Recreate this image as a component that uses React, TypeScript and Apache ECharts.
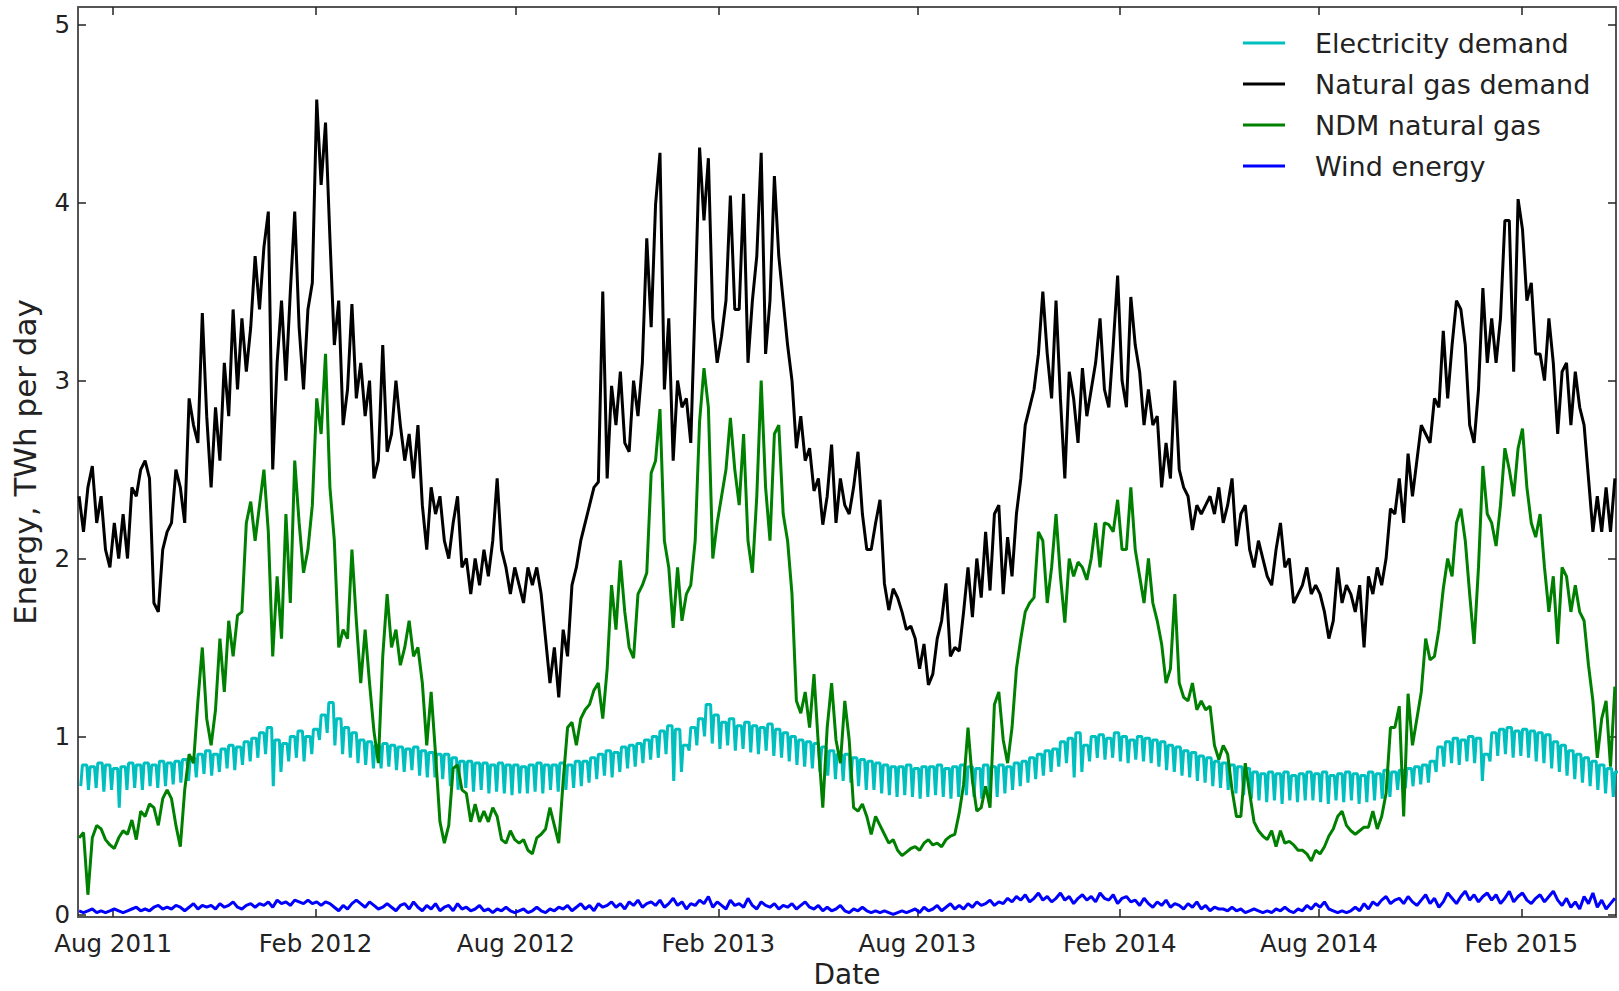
import React, { useEffect, useRef } from "react";
import * as echarts from "echarts";

const DAY = 86400000;
const START = Date.UTC(2011, 6, 1);
const X_MIN = Date.UTC(2011, 5, 30);
const X_MAX = Date.UTC(2015, 3, 28);
const STEP_DAYS = 4;

const tickDates = [
  Date.UTC(2011, 7, 1), Date.UTC(2012, 1, 1), Date.UTC(2012, 7, 1), Date.UTC(2013, 1, 1),
  Date.UTC(2013, 7, 1), Date.UTC(2014, 1, 1), Date.UTC(2014, 7, 1), Date.UTC(2015, 1, 1),
];
const tickLabels = ["Aug 2011", "Feb 2012", "Aug 2012", "Feb 2013", "Aug 2013", "Feb 2014", "Aug 2014", "Feb 2015"];
const yTicks = [0, 1, 2, 3, 4, 5];
const seriesNames = ["Electricity demand", "Natural gas demand", "NDM natural gas", "Wind energy"];

// one value every 4 days from 1 Jul 2011
const gasDemand = [
  2.35,2.15,2.40,2.52,2.20,2.35,2.05,1.95,2.20,2.00,
  2.25,2.00,2.40,2.35,2.50,2.55,2.45,1.75,1.70,2.05,
  2.15,2.20,2.50,2.40,2.20,2.90,2.75,2.65,3.38,2.80,
  2.40,2.85,2.55,3.10,2.80,3.40,2.95,3.35,3.05,3.30,
  3.70,3.40,3.75,3.95,2.50,3.10,3.45,3.00,3.50,3.95,
  3.30,2.95,3.40,3.55,4.58,4.10,4.45,3.80,3.20,3.45,
  2.75,2.95,3.43,2.90,3.10,2.80,3.00,2.45,2.55,3.20,
  2.60,2.70,3.00,2.75,2.55,2.70,2.45,2.75,2.30,2.05,
  2.40,2.25,2.35,2.10,2.00,2.20,2.35,1.95,2.00,1.80,
  2.00,1.85,2.05,1.90,2.10,2.45,2.05,1.95,1.80,1.95,
  1.85,1.75,1.95,1.85,1.95,1.80,1.55,1.30,1.50,1.22,
  1.60,1.45,1.85,1.95,2.10,2.20,2.30,2.40,2.43,3.50,
  2.45,2.97,2.75,3.05,2.65,2.60,3.00,2.80,3.10,3.80,
  3.30,3.99,4.28,2.95,3.35,2.55,3.00,2.85,2.90,2.65,
  3.45,4.31,3.90,4.25,3.35,3.10,3.25,3.45,4.04,3.40,
  3.40,4.05,3.10,3.45,3.70,4.28,3.15,3.45,4.15,3.70,
  3.45,3.20,3.00,2.62,2.80,2.55,2.62,2.38,2.45,2.19,
  2.35,2.64,2.20,2.45,2.30,2.25,2.40,2.60,2.25,2.05,
  2.05,2.20,2.33,1.86,1.71,1.83,1.78,1.70,1.60,1.62,
  1.55,1.38,1.52,1.29,1.35,1.55,1.65,1.86,1.45,1.50,
  1.48,1.70,1.95,1.67,2.00,1.78,2.15,1.82,2.25,2.30,
  1.80,2.12,1.90,2.25,2.45,2.75,2.85,2.95,3.15,3.50,
  3.15,2.90,3.45,2.90,2.45,3.05,2.90,2.65,3.07,2.80,
  2.95,3.10,3.35,2.95,2.85,3.20,3.59,3.00,2.85,3.47,
  3.20,3.05,2.75,2.95,2.75,2.80,2.40,2.65,2.45,3.00,
  2.50,2.40,2.35,2.16,2.30,2.25,2.30,2.35,2.25,2.40,
  2.20,2.30,2.45,2.07,2.25,2.30,2.05,1.95,2.10,2.00,
  1.90,1.85,2.05,2.20,1.95,2.00,1.75,1.80,1.85,1.95,
  1.80,1.85,1.80,1.70,1.55,1.65,1.95,1.75,1.85,1.80,
  1.70,1.85,1.50,1.90,1.80,1.95,1.85,2.00,2.28,2.25,
  2.45,2.20,2.59,2.35,2.55,2.75,2.70,2.65,2.90,2.85,
  3.28,2.90,3.20,3.45,3.40,3.20,2.75,2.65,2.95,3.52,
  3.10,3.35,3.10,3.35,3.90,3.90,3.05,4.02,3.85,3.45,
  3.55,3.15,3.15,3.00,3.35,3.10,2.70,3.05,3.10,2.75,
  3.05,2.85,2.75,2.45,2.15,2.35,2.15,2.40,2.15,2.45,
];

const ndmGas = [
  0.43,0.46,0.11,0.43,0.50,0.48,0.42,0.39,0.37,0.43,
  0.47,0.45,0.53,0.42,0.58,0.55,0.62,0.60,0.50,0.65,
  0.70,0.65,0.50,0.38,0.70,0.90,0.85,1.20,1.50,1.10,
  0.95,1.15,1.55,1.25,1.65,1.45,1.68,1.70,2.20,2.32,
  2.10,2.30,2.50,2.15,1.45,1.90,1.55,2.25,1.75,2.55,
  2.20,1.92,2.05,2.30,2.90,2.70,3.15,2.40,2.10,1.50,
  1.60,1.55,2.05,1.65,1.30,1.60,1.30,1.03,0.85,1.45,
  1.80,1.50,1.60,1.40,1.50,1.65,1.45,1.50,1.30,0.95,
  1.25,0.90,0.52,0.40,0.50,0.82,0.84,0.70,0.68,0.52,
  0.62,0.52,0.58,0.52,0.60,0.55,0.42,0.40,0.47,0.42,
  0.40,0.42,0.36,0.34,0.43,0.45,0.48,0.60,0.50,0.40,
  0.75,1.05,1.08,0.95,1.10,1.15,1.18,1.26,1.30,1.10,
  1.38,1.85,1.60,1.99,1.70,1.50,1.44,1.80,1.85,1.92,
  2.48,2.55,2.84,2.10,1.95,1.61,1.95,1.65,1.80,1.85,
  2.10,2.77,3.07,2.85,2.00,2.20,2.35,2.50,2.79,2.50,
  2.30,2.70,2.10,1.92,2.35,3.00,2.40,2.10,2.70,2.75,
  2.25,2.10,1.80,1.20,1.13,1.25,1.05,1.35,0.95,0.60,
  1.05,1.30,0.98,0.85,1.20,0.98,0.60,0.58,0.62,0.55,
  0.45,0.55,0.50,0.45,0.40,0.42,0.36,0.33,0.35,0.37,
  0.38,0.36,0.40,0.42,0.39,0.40,0.38,0.42,0.44,0.45,
  0.57,0.73,1.05,0.75,0.58,0.60,0.72,0.60,1.18,1.25,
  0.98,0.85,1.05,1.38,1.55,1.70,1.75,1.78,2.15,2.10,
  1.75,1.95,2.25,1.90,1.64,2.00,1.90,1.98,1.95,1.88,
  2.00,2.20,1.95,2.20,2.19,2.15,2.33,2.05,2.05,2.40,
  2.05,1.90,1.75,2.00,1.75,1.65,1.52,1.30,1.38,1.80,
  1.30,1.22,1.20,1.30,1.15,1.20,1.15,1.17,0.95,0.87,
  0.95,0.90,0.70,0.55,0.55,0.85,0.68,0.52,0.47,0.44,
  0.42,0.47,0.38,0.47,0.40,0.41,0.39,0.36,0.36,0.34,
  0.30,0.36,0.34,0.38,0.44,0.48,0.55,0.58,0.50,0.47,
  0.45,0.47,0.49,0.49,0.58,0.48,0.55,0.68,1.05,1.05,
  1.17,0.55,1.24,0.95,1.10,1.25,1.55,1.43,1.45,1.60,
  1.83,2.00,1.90,2.20,2.28,2.10,1.80,1.52,1.95,2.52,
  2.25,2.20,2.07,2.30,2.62,2.50,2.35,2.62,2.73,2.40,
  2.20,2.12,2.25,1.95,1.70,1.90,1.52,1.95,1.90,1.70,
  1.85,1.70,1.65,1.40,1.20,0.88,1.10,1.20,0.83,1.28,
];

const windEnergy = [
  0.02,0.01,0.02,0.03,0.01,0.02,0.01,0.02,0.03,0.02,
  0.01,0.02,0.03,0.04,0.02,0.03,0.02,0.04,0.05,0.03,
  0.04,0.03,0.05,0.04,0.02,0.04,0.06,0.03,0.05,0.04,
  0.05,0.03,0.06,0.04,0.05,0.07,0.04,0.03,0.05,0.06,
  0.04,0.06,0.05,0.07,0.04,0.08,0.06,0.07,0.05,0.08,
  0.07,0.06,0.08,0.06,0.07,0.05,0.07,0.06,0.04,0.02,
  0.05,0.03,0.06,0.08,0.06,0.04,0.07,0.05,0.03,0.04,
  0.06,0.04,0.02,0.05,0.06,0.03,0.07,0.04,0.02,0.05,
  0.03,0.06,0.02,0.04,0.05,0.02,0.06,0.03,0.04,0.02,
  0.03,0.05,0.02,0.03,0.01,0.03,0.02,0.04,0.02,0.01,
  0.02,0.03,0.01,0.02,0.04,0.02,0.01,0.03,0.02,0.04,
  0.03,0.05,0.02,0.04,0.06,0.03,0.05,0.02,0.06,0.04,
  0.05,0.07,0.04,0.06,0.03,0.07,0.05,0.08,0.04,0.06,
  0.07,0.05,0.08,0.04,0.06,0.09,0.05,0.07,0.03,0.06,
  0.05,0.08,0.06,0.10,0.04,0.07,0.05,0.03,0.08,0.05,
  0.06,0.04,0.09,0.05,0.03,0.07,0.05,0.04,0.06,0.03,
  0.05,0.04,0.06,0.03,0.05,0.07,0.04,0.03,0.05,0.02,
  0.04,0.02,0.03,0.05,0.02,0.01,0.03,0.02,0.04,0.02,
  0.01,0.02,0.01,0.02,0.01,0.00,0.01,0.02,0.01,0.02,
  0.03,0.01,0.04,0.02,0.03,0.05,0.02,0.04,0.06,0.03,
  0.05,0.03,0.06,0.04,0.07,0.05,0.06,0.08,0.05,0.07,
  0.06,0.09,0.07,0.10,0.08,0.11,0.07,0.09,0.12,0.08,
  0.10,0.07,0.09,0.12,0.08,0.10,0.06,0.09,0.11,0.08,
  0.10,0.07,0.12,0.09,0.08,0.11,0.06,0.09,0.10,0.07,
  0.08,0.05,0.09,0.06,0.04,0.07,0.05,0.08,0.04,0.06,
  0.05,0.03,0.06,0.04,0.07,0.03,0.05,0.02,0.04,0.03,
  0.03,0.02,0.04,0.02,0.03,0.01,0.02,0.03,0.02,0.01,
  0.02,0.01,0.03,0.02,0.04,0.02,0.01,0.03,0.02,0.05,
  0.03,0.06,0.04,0.07,0.03,0.02,0.01,0.02,0.01,0.02,
  0.04,0.02,0.06,0.03,0.07,0.05,0.08,0.10,0.06,0.08,
  0.09,0.06,0.10,0.07,0.05,0.08,0.11,0.06,0.09,0.04,
  0.07,0.12,0.09,0.06,0.10,0.13,0.08,0.11,0.07,0.10,
  0.12,0.08,0.11,0.06,0.09,0.13,0.07,0.10,0.12,0.08,
  0.06,0.09,0.11,0.07,0.10,0.13,0.08,0.05,0.09,0.04,
  0.07,0.03,0.10,0.06,0.12,0.04,0.08,0.03,0.06,0.09,
];

// electricity: one weekday level and one weekend level per week from 1 Jul 2011
const elecWeekdayHigh = [
  0.84,0.83,0.85,0.84,0.82,0.83,0.85,0.84,0.85,0.84,
  0.86,0.85,0.86,0.87,0.88,0.90,0.92,0.90,0.93,0.95,
  0.94,0.97,0.99,1.02,1.05,0.98,0.96,1.00,1.03,1.00,
  1.04,1.12,1.19,1.10,1.05,1.02,0.98,0.97,0.95,0.96,
  0.95,0.94,0.93,0.94,0.92,0.91,0.90,0.90,0.88,0.86,
  0.86,0.85,0.85,0.84,0.85,0.84,0.84,0.83,0.84,0.85,
  0.84,0.84,0.85,0.84,0.86,0.86,0.88,0.90,0.92,0.91,
  0.94,0.95,0.96,0.98,1.00,1.03,1.06,1.04,0.95,1.05,
  1.10,1.18,1.12,1.08,1.10,1.06,1.08,1.06,1.05,1.07,
  1.04,1.02,1.00,0.98,0.97,0.96,0.94,0.92,0.90,0.90,
  0.88,0.87,0.86,0.85,0.84,0.83,0.83,0.84,0.82,0.83,
  0.83,0.84,0.82,0.83,0.84,0.83,0.82,0.84,0.83,0.84,
  0.83,0.85,0.86,0.88,0.90,0.92,0.93,0.97,0.99,1.02,
  0.95,1.00,1.01,0.99,1.02,1.00,0.98,1.00,0.99,0.98,
  0.97,0.95,0.94,0.92,0.91,0.89,0.88,0.86,0.85,0.84,
  0.83,0.82,0.80,0.79,0.80,0.79,0.80,0.78,0.79,0.80,
  0.79,0.80,0.78,0.79,0.80,0.79,0.78,0.80,0.79,0.81,
  0.80,0.81,0.82,0.83,0.84,0.86,0.94,0.97,0.99,0.98,
  1.00,0.99,0.90,1.02,1.04,1.05,1.03,1.04,1.03,1.02,
  1.01,0.97,0.95,0.92,0.90,0.88,0.86,0.84,0.82,0.80,
];
const elecWeekendLow = [
  0.72,0.70,0.71,0.69,0.70,0.60,0.70,0.71,0.70,0.72,
  0.71,0.72,0.73,0.74,0.75,0.77,0.79,0.78,0.80,0.82,
  0.81,0.84,0.86,0.88,0.90,0.72,0.80,0.86,0.88,0.86,
  0.90,0.98,1.02,0.95,0.90,0.88,0.85,0.84,0.82,0.82,
  0.83,0.81,0.80,0.81,0.78,0.77,0.77,0.76,0.72,0.70,
  0.71,0.69,0.70,0.68,0.69,0.68,0.67,0.68,0.68,0.69,
  0.68,0.70,0.69,0.70,0.71,0.72,0.74,0.76,0.78,0.77,
  0.80,0.82,0.83,0.85,0.87,0.88,0.90,0.75,0.80,0.92,
  0.95,1.00,0.96,0.93,0.95,0.92,0.93,0.91,0.90,0.92,
  0.89,0.88,0.86,0.84,0.83,0.82,0.80,0.78,0.76,0.75,
  0.74,0.72,0.70,0.70,0.68,0.67,0.66,0.67,0.66,0.65,
  0.66,0.67,0.66,0.65,0.66,0.67,0.66,0.65,0.67,0.66,
  0.68,0.70,0.72,0.74,0.76,0.78,0.80,0.83,0.85,0.77,
  0.80,0.86,0.88,0.87,0.88,0.86,0.85,0.87,0.86,0.85,
  0.83,0.81,0.80,0.78,0.77,0.75,0.74,0.72,0.71,0.70,
  0.68,0.67,0.65,0.64,0.63,0.64,0.62,0.64,0.63,0.64,
  0.64,0.63,0.62,0.64,0.63,0.64,0.62,0.63,0.64,0.65,
  0.66,0.70,0.71,0.72,0.73,0.74,0.80,0.83,0.85,0.84,
  0.86,0.85,0.75,0.86,0.89,0.90,0.88,0.89,0.88,0.86,
  0.85,0.82,0.80,0.78,0.76,0.74,0.72,0.70,0.68,0.66,
];

const FONT = "DejaVu Sans";
const TEXT = "#222";

function stepSeries(values: number[]) {
  return values.map((v, i) => [START + i * STEP_DAYS * DAY, v]);
}

function electricitySeries() {
  const out: [number, number][] = [];
  for (let w = 0; w < elecWeekdayHigh.length; w++) {
    const base = START + w * 7 * DAY;
    out.push([base + 1.5 * DAY, elecWeekendLow[w]]);
    out.push([base + 3 * DAY, elecWeekdayHigh[w]]);
    out.push([base + 7 * DAY, elecWeekdayHigh[w]]);
  }
  return out;
}

function tickLabel(v: number) {
  const k = tickDates.findIndex((t) => Math.abs(t - v) < DAY);
  return k >= 0 ? tickLabels[k] : "";
}

export default function App() {
  const ref = useRef<HTMLDivElement>(null);
  useEffect(() => {
    document.body.style.margin = "0";
    if (!ref.current) return;
    const chart = echarts.init(ref.current, undefined, { renderer: "svg" });
    const frame = { show: true, onZero: false, lineStyle: { color: "#555", width: 2 } };
    const tick = { show: true, inside: true, length: 8, lineStyle: { color: "#222", width: 1.5 } };
    const lineSeries = (name: string, color: string, data: any[]) => ({
      name,
      type: "line",
      data,
      showSymbol: false,
      symbol: "none",
      xAxisIndex: 0,
      yAxisIndex: 0,
      lineStyle: { color, width: 3 },
      itemStyle: { color },
      emphasis: { disabled: true },
    });
    chart.setOption({
      animation: false,
      textStyle: { fontFamily: FONT },
      grid: { left: 78, right: 3, top: 7, bottom: 74, containLabel: false, outerBoundsMode: "none" },
      legend: {
        orient: "vertical",
        left: 1243,
        top: 28,
        padding: 0,
        itemWidth: 42,
        itemHeight: 3,
        itemGap: 11,
        icon: "rect",
        data: seriesNames,
        textStyle: { fontSize: 27, color: TEXT, fontFamily: FONT, lineHeight: 30, padding: [0, 0, 0, 25] },
      },
      xAxis: [
        {
          type: "value",
          min: X_MIN,
          max: X_MAX,
          position: "bottom",
          axisLine: frame,
          axisTick: { ...tick, customValues: tickDates },
          splitLine: { show: false },
          axisLabel: {
            customValues: tickDates,
            formatter: (v: number) => tickLabel(v),
            fontSize: 24.5,
            lineHeight: 20,
            color: TEXT,
            fontFamily: FONT,
            margin: 16,
          },
          name: "Date",
          nameLocation: "middle",
          nameGap: 43,
          nameTextStyle: { fontSize: 28, lineHeight: 28, color: TEXT, fontFamily: FONT },
        },
        {
          type: "value",
          min: X_MIN,
          max: X_MAX,
          position: "top",
          axisLine: frame,
          axisTick: { ...tick, customValues: tickDates },
          axisLabel: { show: false },
          splitLine: { show: false },
        },
      ],
      yAxis: [
        {
          type: "value",
          min: -0.015,
          max: 5.1,
          position: "left",
          axisLine: frame,
          axisTick: { ...tick, customValues: yTicks },
          splitLine: { show: false },
          axisLabel: {
            customValues: yTicks,
            fontSize: 24.5,
            lineHeight: 20,
            color: TEXT,
            fontFamily: FONT,
            margin: 8,
          },
          name: "Energy, TWh per day",
          nameLocation: "middle",
          nameGap: 38,
          nameTextStyle: { fontSize: 31, color: TEXT, fontFamily: FONT },
        },
        {
          type: "value",
          min: -0.015,
          max: 5.1,
          position: "right",
          axisLine: frame,
          axisTick: { ...tick, customValues: yTicks },
          axisLabel: { show: false },
          splitLine: { show: false },
        },
      ],
      series: [
        lineSeries(seriesNames[0], "#00bfbf", electricitySeries()),
        lineSeries(seriesNames[1], "#000000", stepSeries(gasDemand)),
        lineSeries(seriesNames[2], "#008000", stepSeries(ndmGas)),
        lineSeries(seriesNames[3], "#0000ff", stepSeries(windEnergy)),
      ],
    });
    return () => chart.dispose();
  }, []);
  return <div ref={ref} style={{ width: 1619, height: 991 }} />;
}
